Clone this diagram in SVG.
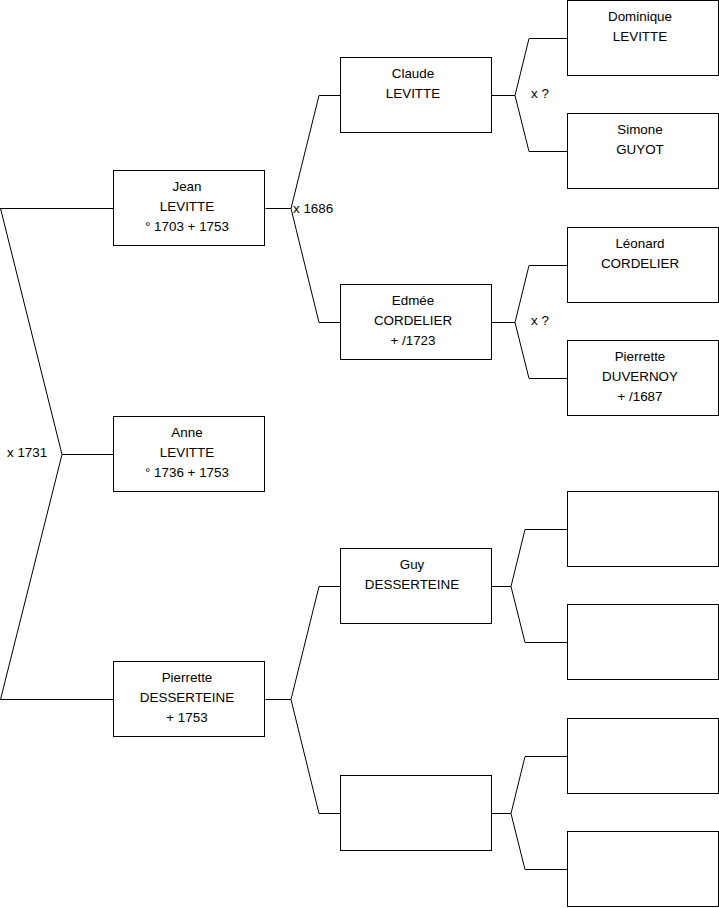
<svg xmlns="http://www.w3.org/2000/svg" width="719" height="908" viewBox="0 0 719 908">
<style>
.b{fill:#fff;stroke:#000;stroke-width:1}
.c{fill:none;stroke:#000;stroke-width:1}
text{font-family:"Liberation Sans",Arial,sans-serif;font-size:13.4px;fill:#000}
.m{text-anchor:middle}
</style>
<rect width="719" height="908" fill="#fff"/>
<g id="connectors">
<path class="c" d="M0,208.5 H113.5 M0.5,208.5 L62,454.5 L0.5,699.5 M62,454.5 H113.5 M0,699.5 H113.5"/>
<path class="c" d="M265.5,208.5 H291 M340.5,95.5 H319 L291,208.5 L319,322.5 H340.5"/>
<path class="c" d="M491.5,95.5 H515 M567.5,38.5 H529 L515,95.5 L529,151.5 H567.5"/>
<path class="c" d="M491.5,322.5 H515 M567.5,265.5 H529 L515,322.5 L529,378.5 H567.5"/>
<path class="c" d="M265.5,699.5 H291 M340.5,586.5 H319 L291,699.5 L319,813.5 H340.5"/>
<path class="c" d="M491.5,586.5 H511 M567.5,529.5 H525 L511,586.5 L525,642.5 H567.5"/>
<path class="c" d="M491.5,813.5 H511 M567.5,756.5 H525 L511,813.5 L525,869.5 H567.5"/>
<text x="7" y="456.5">x 1731</text>
<text x="293" y="212.5">x 1686</text>
<text x="531" y="97.5">x ?</text>
<text x="531" y="324.5">x ?</text>
</g>
<g id="jean"><rect class="b" x="113.5" y="170.5" width="151" height="75"/>
<text class="m" x="187" y="190.5">Jean</text><text class="m" x="187" y="210.5">LEVITTE</text><text class="m" x="187" y="230.5">° 1703 + 1753</text></g>
<g id="anne"><rect class="b" x="113.5" y="416.5" width="151" height="75"/>
<text class="m" x="187" y="437">Anne</text><text class="m" x="187" y="457">LEVITTE</text><text class="m" x="187" y="477">° 1736 + 1753</text></g>
<g id="pierrette"><rect class="b" x="113.5" y="661.5" width="151" height="75"/>
<text class="m" x="187" y="682">Pierrette</text><text class="m" x="187" y="702">DESSERTEINE</text><text class="m" x="187" y="722">+ 1753</text></g>
<g id="claude"><rect class="b" x="340.5" y="57.5" width="151" height="75"/>
<text class="m" x="413" y="77.5">Claude</text><text class="m" x="413" y="97.5">LEVITTE</text></g>
<g id="edmee"><rect class="b" x="340.5" y="284.5" width="151" height="75"/>
<text class="m" x="413" y="304.5">Edmée</text><text class="m" x="413" y="324.5">CORDELIER</text><text class="m" x="413" y="344.5">+ /1723</text></g>
<g id="guy"><rect class="b" x="340.5" y="548.5" width="151" height="75"/>
<text class="m" x="412" y="568.5">Guy</text><text class="m" x="412" y="588.5">DESSERTEINE</text></g>
<g id="gen2-empty"><rect class="b" x="340.5" y="775.5" width="151" height="75"/></g>
<g id="dominique"><rect class="b" x="567.5" y="0.5" width="151" height="75"/>
<text class="m" x="640" y="20.5">Dominique</text><text class="m" x="640" y="40.5">LEVITTE</text></g>
<g id="simone"><rect class="b" x="567.5" y="113.5" width="151" height="75"/>
<text class="m" x="640" y="133.5">Simone</text><text class="m" x="640" y="153.5">GUYOT</text></g>
<g id="leonard"><rect class="b" x="567.5" y="227.5" width="151" height="75"/>
<text class="m" x="640" y="247.5">Léonard</text><text class="m" x="640" y="267.5">CORDELIER</text></g>
<g id="pierrette-d"><rect class="b" x="567.5" y="340.5" width="151" height="75"/>
<text class="m" x="640" y="360.5">Pierrette</text><text class="m" x="640" y="380.5">DUVERNOY</text><text class="m" x="640" y="400.5">+ /1687</text></g>
<g id="gen3-e1"><rect class="b" x="567.5" y="491.5" width="151" height="75"/></g>
<g id="gen3-e2"><rect class="b" x="567.5" y="604.5" width="151" height="75"/></g>
<g id="gen3-e3"><rect class="b" x="567.5" y="718.5" width="151" height="75"/></g>
<g id="gen3-e4"><rect class="b" x="567.5" y="831.5" width="151" height="75"/></g>
</svg>
